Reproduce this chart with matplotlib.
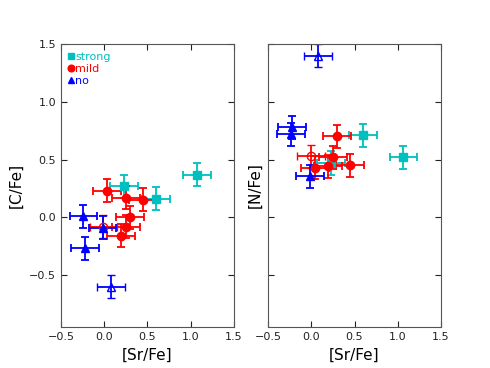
import numpy as np
import matplotlib
matplotlib.use('Agg')
import matplotlib.pyplot as plt

# left panel: [C/Fe] vs [Sr/Fe]
sr_c_strong = [0.23, 0.60, 1.07]
c_strong = [0.27, 0.16, 0.37]
sr_c_mild = [0.035, 0.25, 0.45, 0.30, 0.25, 0.19]
c_mild = [0.23, 0.17, 0.15, 0.00, -0.08, -0.16]
sr_c_mild_open = [-0.01]
c_mild_open = [-0.08]
sr_c_no = [-0.24, -0.02, -0.22]
c_no = [0.01, -0.09, -0.27]
sr_c_no_open = [0.08]
c_no_open = [-0.60]

# right panel: [N/Fe] vs [Sr/Fe]
sr_n_strong = [0.60, 1.065, 0.23]
n_strong = [0.71, 0.52, 0.47]
sr_n_mild = [0.30, 0.255, 0.045, 0.195, 0.45]
n_mild = [0.70, 0.52, 0.43, 0.44, 0.45]
sr_n_mild_open = [0.0]
n_mild_open = [0.53]
sr_n_no = [-0.225, -0.235, -0.015]
n_no = [0.78, 0.72, 0.355]
sr_n_no_open = [0.08]
n_no_open = [1.40]

xerr = 0.16
yerr = 0.10

fig = plt.figure(figsize=(4.9, 3.68), dpi=100)
ax1 = fig.add_axes([0.1245, 0.1114, 0.353, 0.769])
ax2 = fig.add_axes([0.547, 0.1114, 0.353, 0.769], sharey=ax1)

kw = dict(xerr=xerr, yerr=yerr, ls='none', capsize=3, elinewidth=1.3,
          capthick=1.3, ms=6)


def draw(ax, sets):
    for x, y, color, marker, hollow, label in sets:
        if hollow:
            ax.errorbar(x, y, color=color, marker=marker, mfc='none',
                        mec=color, mew=1, **kw)
        else:
            ax.errorbar(x, y, color=color, marker=marker, label=label, **kw)


draw(ax1, [
    (sr_c_strong, c_strong, 'c', 's', False, 'strong'),
    (sr_c_mild, c_mild, 'r', 'o', False, 'mild'),
    (sr_c_mild_open, c_mild_open, 'r', 'o', True, None),
    (sr_c_no, c_no, 'b', '^', False, 'no'),
    (sr_c_no_open, c_no_open, 'b', '^', True, None),
])
draw(ax2, [
    (sr_n_strong, n_strong, 'c', 's', False, None),
    (sr_n_mild, n_mild, 'r', 'o', False, None),
    (sr_n_mild_open, n_mild_open, 'r', 'o', True, None),
    (sr_n_no, n_no, 'b', '^', False, None),
    (sr_n_no_open, n_no_open, 'b', '^', True, None),
])

for ax in (ax1, ax2):
    ax.set_xlim(-0.5, 1.5)
    ax.set_ylim(-0.95, 1.5)
    ax.set_xticks([-0.5, 0.0, 0.5, 1.0, 1.5])
    ax.set_yticks([-0.5, 0.0, 0.5, 1.0, 1.5])
    ax.tick_params(direction='in', top=True, right=True, length=4,
                   labelsize=8, colors='#222222')
    for s in ax.spines.values():
        s.set_color('#555555')
    ax.set_xlabel('[Sr/Fe]', fontsize=11)

ax2.tick_params(labelleft=False)
ax1.set_ylabel('[C/Fe]', fontsize=11)
ax2.set_ylabel('[N/Fe]', fontsize=11)

handles, labels = ax1.get_legend_handles_labels()
handles = [h[0] for h in handles]
leg = ax1.legend(handles, labels, loc='upper left', frameon=False,
                 fontsize=8, handlelength=0.4, handletextpad=0.2,
                 labelspacing=0.2, borderaxespad=0.3, markerscale=0.8)
for t, c in zip(leg.get_texts(), ['c', 'r', 'b']):
    t.set_color(c)

fig.savefig('out.png', dpi=100)
